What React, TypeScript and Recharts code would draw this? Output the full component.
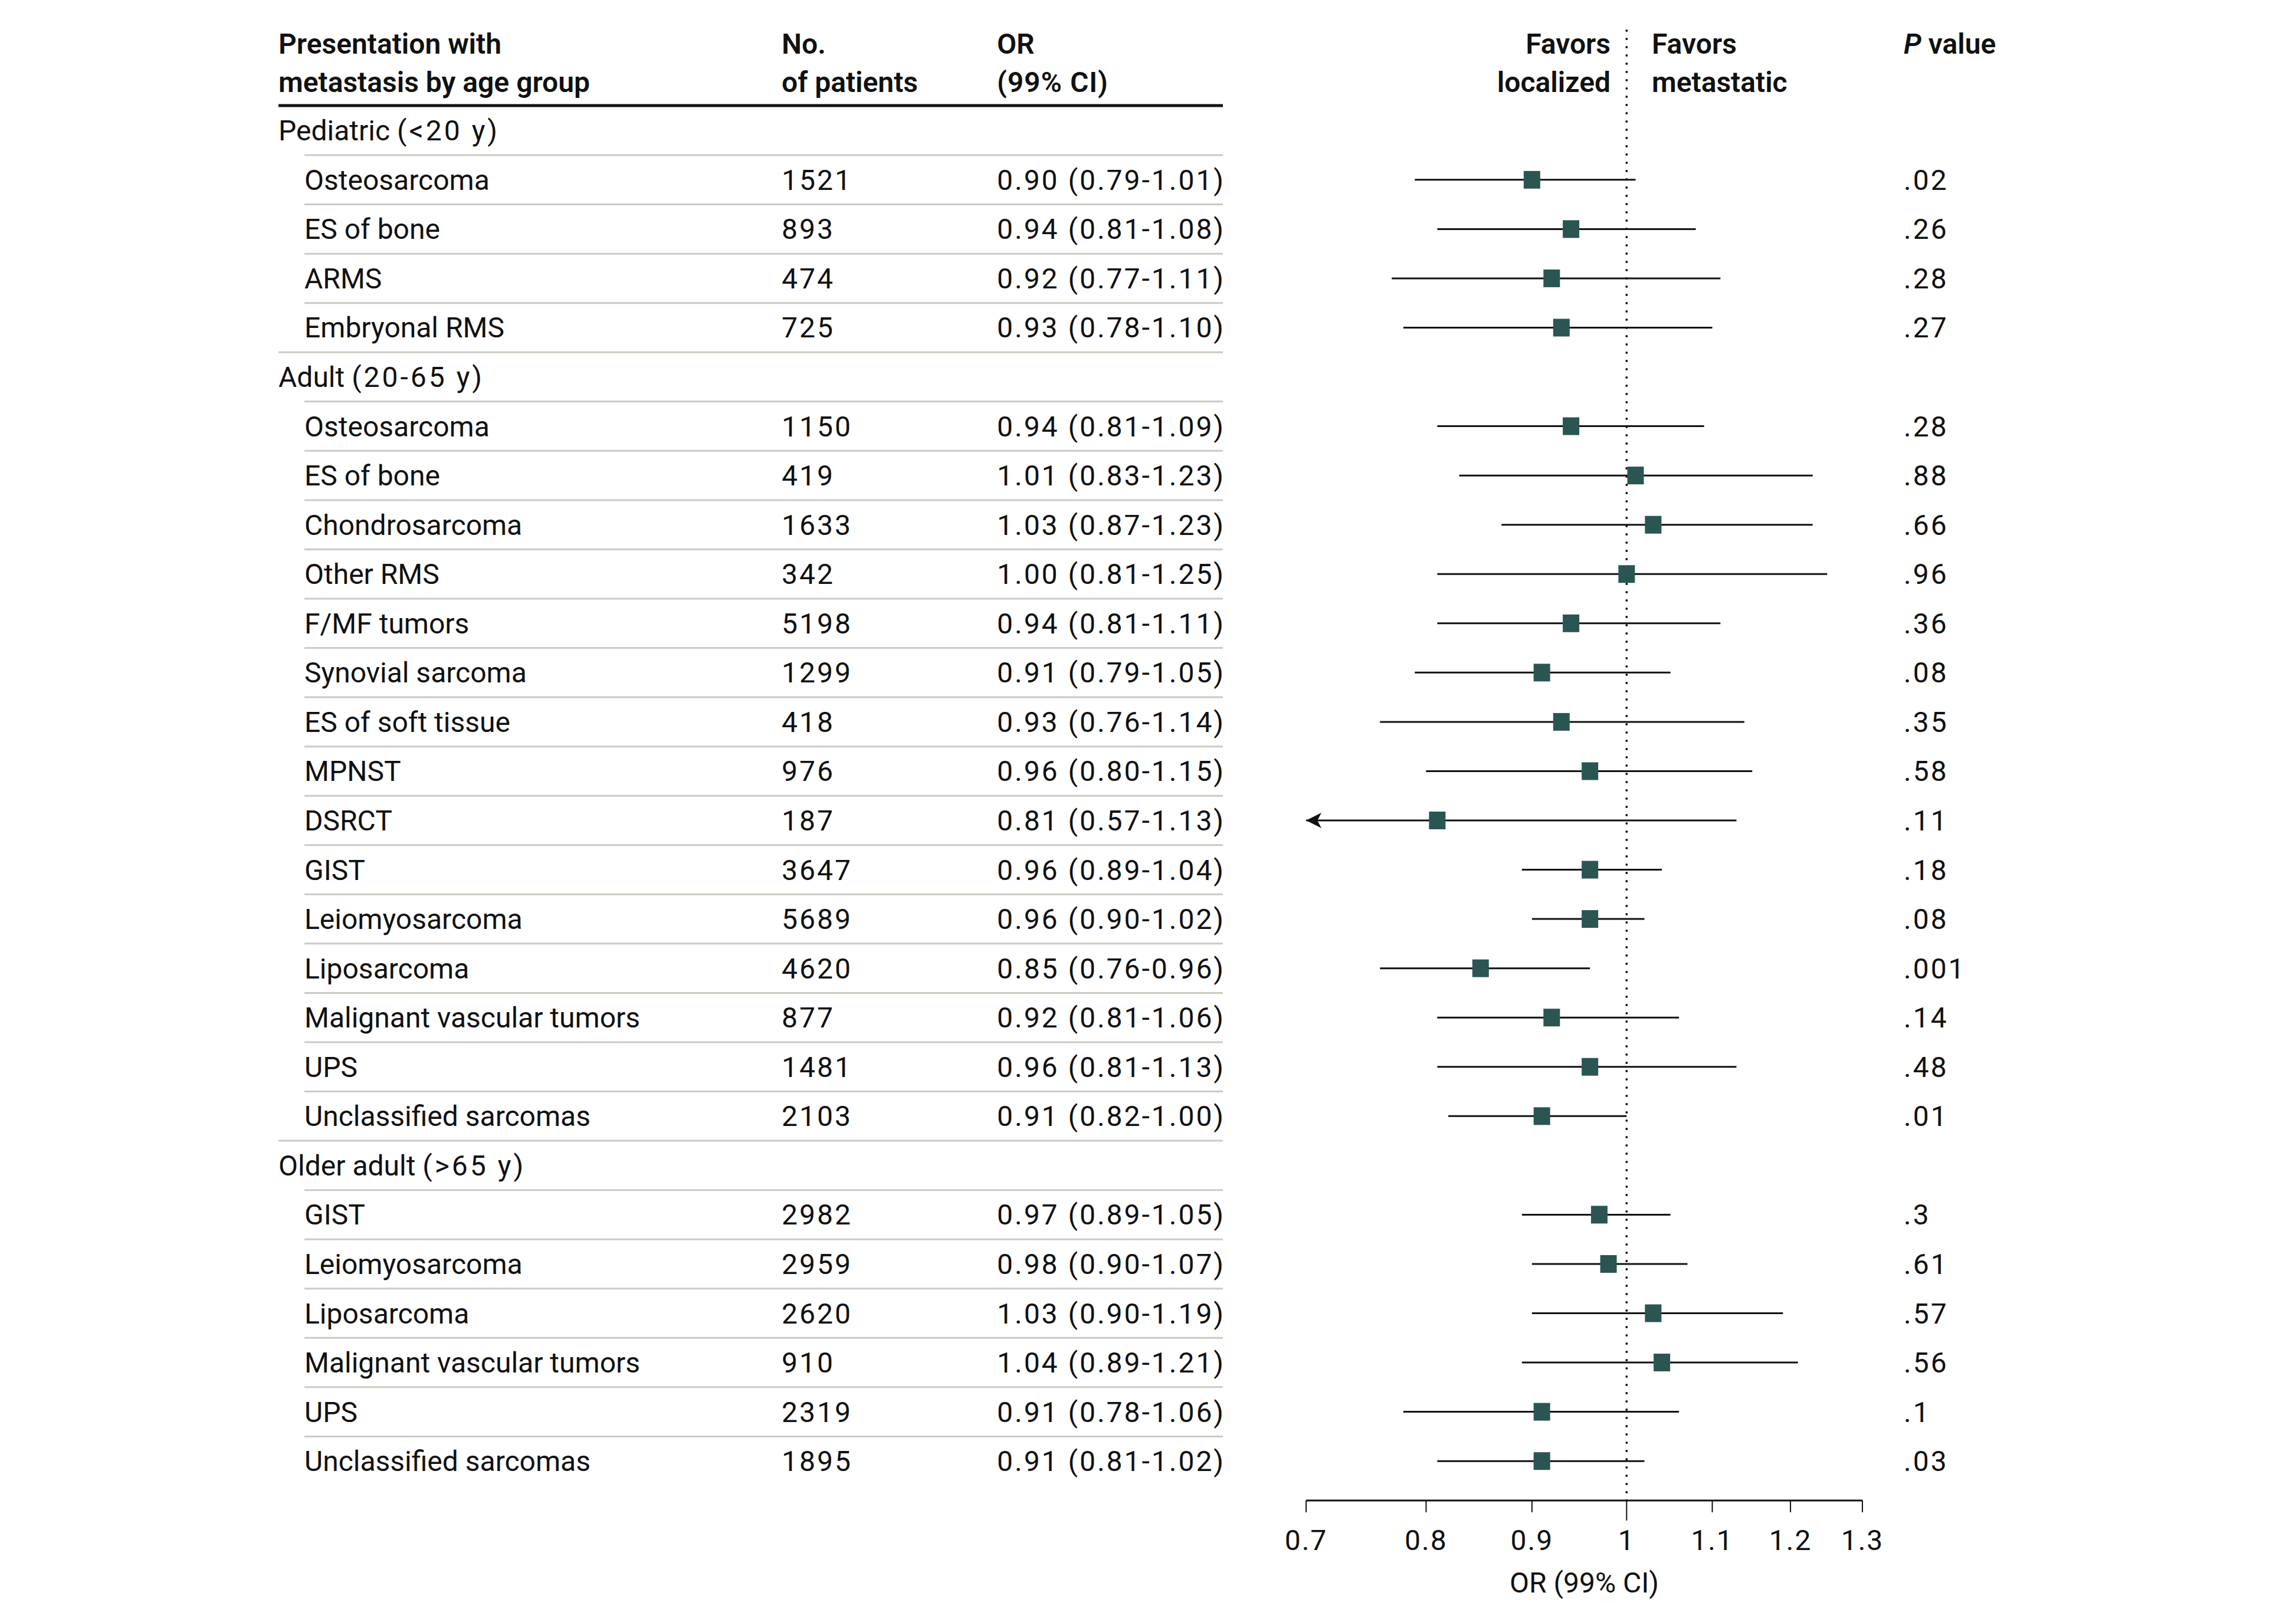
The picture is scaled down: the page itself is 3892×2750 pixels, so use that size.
import { ScatterChart, Scatter, XAxis, YAxis, ReferenceLine, ReferenceDot, Customized } from 'recharts';

const FONT = 'Roboto, "Open Sans", sans-serif';
const FS = 48;
const NUM_SPACING = 3;
const INK = '#111';
const SQUARE = '#2b5553';
const RULE = '#c9ccc3';

const W = 3892;
const H = 2750;
const PLOT_TOP = 50;
const AXIS_H = 206;
const Y_DOMAIN: [number, number] = [-2.05, 27.8];
const ROW_H = (H - AXIS_H - PLOT_TOP) / (Y_DOMAIN[1] - Y_DOMAIN[0]);

// table columns (px)
const COL_GROUP = 472;
const COL_NAME = 516;
const COL_N = 1325;
const COL_OR = 1690;
const TABLE_END = 2073;
const COL_P = 3227;

const rowLabels = [
  'Pediatric (<20 y)', 'Osteosarcoma', 'ES of bone', 'ARMS', 'Embryonal RMS',
  'Adult (20-65 y)', 'Osteosarcoma', 'ES of bone', 'Chondrosarcoma', 'Other RMS', 'F/MF tumors',
  'Synovial sarcoma', 'ES of soft tissue', 'MPNST', 'DSRCT', 'GIST', 'Leiomyosarcoma', 'Liposarcoma',
  'Malignant vascular tumors', 'UPS', 'Unclassified sarcomas',
  'Older adult (>65 y)', 'GIST', 'Leiomyosarcoma', 'Liposarcoma', 'Malignant vascular tumors', 'UPS',
  'Unclassified sarcomas',
];
const patients = [null, 1521, 893, 474, 725, null, 1150, 419, 1633, 342, 5198, 1299, 418, 976, 187, 3647, 5689, 4620, 877, 1481, 2103, null, 2982, 2959, 2620, 910, 2319, 1895];
const oddsRatios = [null, 0.90, 0.94, 0.92, 0.93, null, 0.94, 1.01, 1.03, 1.00, 0.94, 0.91, 0.93, 0.96, 0.81, 0.96, 0.96, 0.85, 0.92, 0.96, 0.91, null, 0.97, 0.98, 1.03, 1.04, 0.91, 0.91];
const ciLower = [null, 0.79, 0.81, 0.77, 0.78, null, 0.81, 0.83, 0.87, 0.81, 0.81, 0.79, 0.76, 0.80, 0.57, 0.89, 0.90, 0.76, 0.81, 0.81, 0.82, null, 0.89, 0.90, 0.90, 0.89, 0.78, 0.81];
const ciUpper = [null, 1.01, 1.08, 1.11, 1.10, null, 1.09, 1.23, 1.23, 1.25, 1.11, 1.05, 1.14, 1.15, 1.13, 1.04, 1.02, 0.96, 1.06, 1.13, 1.00, null, 1.05, 1.07, 1.19, 1.21, 1.06, 1.02];
const pValues = [null, '.02', '.26', '.28', '.27', null, '.28', '.88', '.66', '.96', '.36', '.08', '.35', '.58', '.11', '.18', '.08', '.001', '.14', '.48', '.01', null, '.3', '.61', '.57', '.56', '.1', '.03'];
const xTicks = [0.7, 0.8, 0.9, 1, 1.1, 1.2, 1.3];
const X_MIN = xTicks[0];
const X_MAX = xTicks[xTicks.length - 1];

const rowIdx = rowLabels.map((_, i) => i);
const points = rowIdx
  .filter((i) => oddsRatios[i] != null)
  .map((i) => ({ row: i, or: oddsRatios[i] as number, lo: ciLower[i] as number, hi: ciUpper[i] as number }));

const isGroup = (i: number) => oddsRatios[i] == null;

function GroupLabel({ label }: { label: string }) {
  // the age range in parentheses is set a little looser, as in the source
  const cut = label.indexOf('(');
  return (
    <>
      {label.slice(0, cut)}
      <tspan letterSpacing={4}>{label.slice(cut)}</tspan>
    </>
  );
}

function RowTick(props: any) {
  const { y, payload } = props;
  const i = payload.value as number;
  const group = isGroup(i);
  const base = y + 17;
  const last = i === rowLabels.length - 1;
  return (
    <g fontFamily={FONT} fontSize={FS} fill={INK}>
      <text x={group ? COL_GROUP : COL_NAME} y={base}>
        {group ? <GroupLabel label={rowLabels[i]} /> : rowLabels[i]}
      </text>
      {!group && <text x={COL_N} y={base} letterSpacing={NUM_SPACING}>{patients[i]}</text>}
      {!group && (
        <text x={COL_OR} y={base} letterSpacing={NUM_SPACING}>
          {`${(oddsRatios[i] as number).toFixed(2)} (${(ciLower[i] as number).toFixed(2)}-${(ciUpper[i] as number).toFixed(2)})`}
        </text>
      )}
      {!group && <text x={COL_P} y={base} letterSpacing={NUM_SPACING}>{pValues[i]}</text>}
      {!last && (
        <line
          x1={isGroup(i + 1) ? COL_GROUP : COL_NAME}
          x2={TABLE_END}
          y1={y + ROW_H / 2}
          y2={y + ROW_H / 2}
          stroke={RULE}
          strokeWidth={3}
        />
      )}
    </g>
  );
}

function XTick(props: any) {
  const { x, y, payload } = props;
  const len = payload.value === 1 ? 34 : 20;
  return (
    <g>
      <line x1={x} x2={x} y1={y} y2={y + len} stroke={INK} strokeWidth={2} />
      <text x={x} y={y + 84} textAnchor="middle" fontFamily={FONT} fontSize={FS} fill={INK} letterSpacing={2}>
        {String(payload.value)}
      </text>
    </g>
  );
}

function Square(props: any) {
  const { cx, cy } = props;
  return <rect x={cx - 14} y={cy - 15} width={28} height={30} fill={SQUARE} />;
}

function Arrow(props: any) {
  const { cx, cy } = props;
  return <path d={`M${cx},${cy} L${cx + 26},${cy - 13} L${cx + 19},${cy} L${cx + 26},${cy + 13} Z`} fill={INK} />;
}

function Header() {
  const l1 = 91;
  const l2 = 156;
  return (
    <g fontFamily={FONT} fontSize={FS} fill={INK} fontWeight={600}>
      <text x={COL_GROUP} y={l1}>Presentation with</text>
      <text x={COL_GROUP} y={l2}>metastasis by age group</text>
      <text x={COL_N} y={l1}>No.</text>
      <text x={COL_N} y={l2}>of patients</text>
      <text x={COL_OR} y={l1}>OR</text>
      <text x={COL_OR} y={l2} letterSpacing={1}>(99% CI)</text>
      <line x1={COL_GROUP} x2={TABLE_END} y1={179} y2={179} stroke={INK} strokeWidth={5} />
      <text x={2730} y={l1} textAnchor="end">Favors</text>
      <text x={2730} y={l2} textAnchor="end">localized</text>
      <text x={2800} y={l1}>Favors</text>
      <text x={2800} y={l2}>metastatic</text>
      <text x={COL_P} y={l1}>
        <tspan fontStyle="italic">P</tspan> value
      </text>
    </g>
  );
}

export default function App() {
  return (
    <div style={{ position: 'absolute', left: 0, top: 0, width: W, height: H, background: '#fff', fontFamily: FONT }}>
      <ScatterChart width={W} height={H} margin={{ top: PLOT_TOP, right: W - 3157, bottom: 0, left: 0 }}>
        <XAxis
          type="number"
          dataKey="or"
          scale="log"
          domain={[X_MIN, X_MAX]}
          ticks={xTicks}
          interval={0}
          allowDataOverflow
          height={AXIS_H}
          tickLine={false}
          tickSize={0}
          tickMargin={0}
          axisLine={{ stroke: INK, strokeWidth: 3 }}
          tick={<XTick />}
          label={{ value: 'OR (99% CI)', position: 'insideBottom', offset: 50, fill: INK, fontSize: FS, fontFamily: FONT }}
        />
        <YAxis
          type="number"
          dataKey="row"
          domain={Y_DOMAIN}
          reversed
          allowDataOverflow
          ticks={rowIdx}
          interval={0}
          width={2214}
          axisLine={false}
          tickLine={false}
          tick={<RowTick />}
        />
        <ReferenceLine x={1} stroke={INK} strokeWidth={4} strokeDasharray="0 14" strokeLinecap="round" />
        {points.map((p) => (
          <ReferenceLine
            key={`ci-${p.row}`}
            segment={[{ x: p.lo, y: p.row }, { x: p.hi, y: p.row }]}
            ifOverflow="hidden"
            stroke={INK}
            strokeWidth={3}
          />
        ))}
        <Scatter data={points} isAnimationActive={false} shape={<Square />} />
        {points
          .filter((p) => p.lo < X_MIN)
          .map((p) => (
            <ReferenceDot key={`arrow-${p.row}`} x={X_MIN} y={p.row} shape={<Arrow />} />
          ))}
        <Customized component={Header} />
      </ScatterChart>
    </div>
  );
}
